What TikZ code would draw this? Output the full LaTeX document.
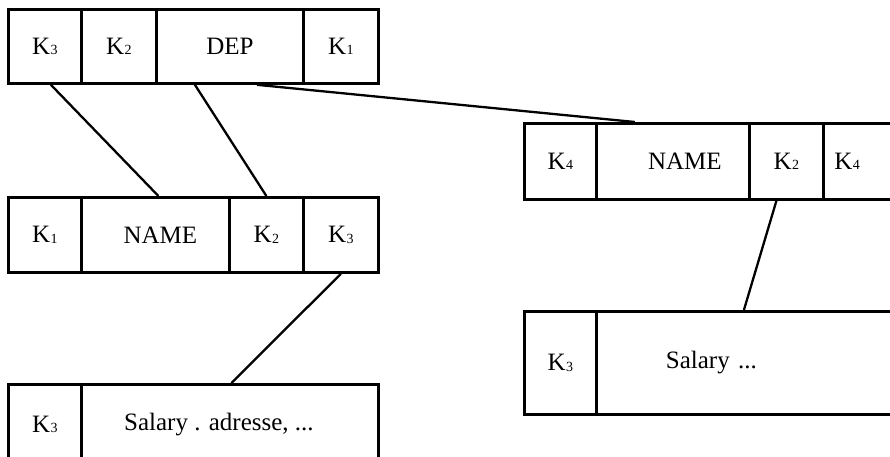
\documentclass[tikz,border=0pt]{standalone}
\usepackage{fontspec}
\setmainfont{Liberation Serif}
\usetikzlibrary{calc}
\newcommand{\Kx}[1]{K\kern0.3pt\raisebox{-0.5pt}{\fontsize{14}{14}\selectfont #1}}
\tikzset{
  cell/.style={draw, line width=2.8pt, anchor=north west, inner sep=0pt,
    minimum height=#1, font=\fontsize{25}{25}\selectfont},
  cell/.default=74pt,
  link/.style={line width=2.3pt},
}
\begin{document}
\begin{tikzpicture}[x=1pt,y=-1pt]
\useasboundingbox (0,0) rectangle (890,456);
\clip (0,0) rectangle (890,456);
% top row
\node[cell, minimum width=73pt] (t1) at (7,8) {\Kx{3}};
\node[cell, minimum width=75pt] (t2) at (80,8) {\Kx{2}};
\node[cell, minimum width=147pt] (t3) at (155,8) {DEP};
\node[cell, minimum width=75pt] (t4) at (302,8) {\Kx{1}};
% middle left row
\node[cell=75pt, minimum width=73pt] (m1) at (7,196) {\Kx{1}};
\node[cell=75pt, minimum width=148pt] (m2) at (80,196) {\hspace*{10pt}NAME};
\node[cell=75pt, minimum width=74pt] (m3) at (228,196) {\Kx{2}};
\node[cell=75pt, minimum width=75pt] (m4) at (302,196) {\Kx{3}};
% bottom left row
\node[cell=80pt, minimum width=73pt] (b1) at (7,383) {\Kx{3}};
\node[cell=80pt, minimum width=297pt] (b2) at (80,383) {\hspace*{-22pt}Salary . adresse, ...};
% right top row
\node[cell=76pt, minimum width=72pt] (r1) at (523,122) {\Kx{4}};
\node[cell=76pt, minimum width=153pt] (r2) at (595,122) {\hspace*{24pt}NAME};
\node[cell=76pt, minimum width=80pt, text width=60pt, align=left] (r4) at (822,122) {\hspace*{1pt}\Kx{4}};
\node[cell=76pt, minimum width=74pt] (r3) at (748,122) {\Kx{2}};
% right bottom row
\node[cell=103pt, minimum width=72pt] (s1) at (523,310) {\Kx{3}};
\node[cell=103pt, minimum width=305pt, text width=280pt, align=left] (s2) at (595,310) {\hspace*{57pt}\raisebox{6pt}{Salary ...}};
% connectors
\draw[link] ([xshift=6pt]t1.south) -- ([xshift=3pt]m2.north);
\draw[link] ([xshift=-35pt]t3.south) -- (m3.north);
\draw[link] ([xshift=27pt]t3.south) -- ([xshift=-38pt]r2.north);
\draw[link] (m4.south) -- ([xshift=1.5pt]b2.north);
\draw[link] ([xshift=-10pt]r3.south) -- ([xshift=-5pt]s2.north);
\end{tikzpicture}
\end{document}
